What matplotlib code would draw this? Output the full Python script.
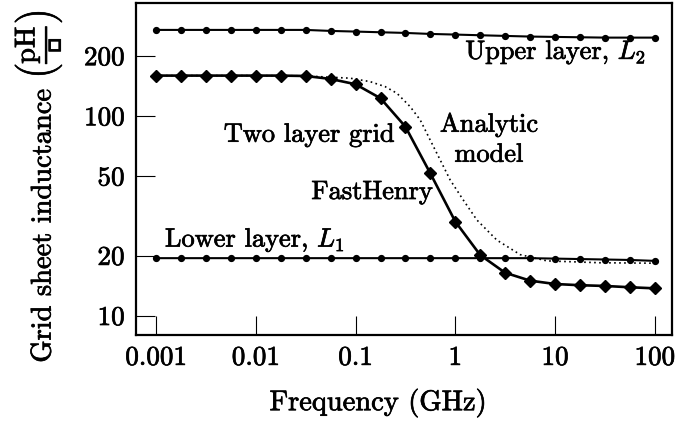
import matplotlib
matplotlib.use("Agg")
import matplotlib.pyplot as plt
import matplotlib.patheffects as pe
from matplotlib.ticker import NullLocator, FixedLocator, FixedFormatter

plt.rcParams['font.family'] = 'serif'
plt.rcParams['font.serif'] = ['cmr10']
plt.rcParams['mathtext.fontset'] = 'cm'
plt.rcParams['axes.formatter.use_mathtext'] = True

# Frequencies (GHz): 4 points per decade from 0.001 to 100
freq = [0.001, 0.00178, 0.00316, 0.00562, 0.01, 0.0178, 0.0316, 0.0562,
        0.1, 0.178, 0.316, 0.562, 1.0, 1.78, 3.16, 5.62, 10.0, 17.8, 31.6, 56.2, 100.0]

upper_L2 = [269.6, 269.6, 269.6, 269.6, 269.6, 269.6, 269.6, 266.5, 264.5, 262.4, 260.4,
            257.4, 255.5, 253.5, 251.6, 249.7, 248.7, 247.7, 246.7, 246.7, 246.7]

two_layer = [159.2, 159.2, 159.2, 159.2, 159.2, 159.2, 158.5, 153.2, 144.1, 122.6, 88.4,
             51.6, 29.6, 20.1, 16.4, 14.97, 14.4, 14.2, 14.08, 13.87, 13.7]

lower_L1 = [19.4, 19.4, 19.4, 19.4, 19.4, 19.4, 19.4, 19.4, 19.4, 19.4, 19.4,
            19.4, 19.4, 19.4, 19.4, 19.4, 19.3, 19.2, 19.1, 19.0, 18.8]

analytic_f = [0.001, 0.01, 0.03, 0.0883, 0.14, 0.198, 0.26, 0.353, 0.445, 0.56, 0.706,
              0.889, 1.2, 1.65, 2.61, 4.48, 8.3, 28.0, 100.0]
analytic_L = [159.2, 159.2, 158.8, 154.5, 148.5, 140.2, 129.9, 111.3, 95.5, 75.8, 60.2,
              47.8, 38.0, 30.1, 23.9, 20.2, 18.8, 18.4, 18.3]

xticks = [0.001, 0.01, 0.1, 1, 10, 100]
xticklabels = ['0.001', '0.01', '0.1', '1', '10', '100']
yticks = [10, 20, 50, 100, 200]
yticklabels = ['10', '20', '50', '100', '200']

W, H = 677, 421
fig = plt.figure(figsize=(W / 100, H / 100), dpi=100)
ax = fig.add_axes([135.7 / W, 1 - 335 / H, (671.7 - 135.7) / W, (335 - 2.7) / H])

ax.set_xscale('log')
ax.set_yscale('log')
ax.set_xlim(10 ** -3.204, 10 ** 2.17)
ax.set_ylim(10 ** 0.903, 10 ** 2.567)

ax.plot(analytic_f, analytic_L, color='black', lw=1.2, ls=(0, (1, 2)))
ax.plot(freq, upper_L2, color='black', lw=1.5, marker='o', ms=4.2)
ax.plot(freq, lower_L1, color='black', lw=1.5, marker='o', ms=4.2)
ax.plot(freq, two_layer, color='black', lw=1.9, marker='D', ms=6.5)

ax.xaxis.set_major_locator(FixedLocator(xticks))
ax.xaxis.set_major_formatter(FixedFormatter(xticklabels))
ax.yaxis.set_major_locator(FixedLocator(yticks))
ax.yaxis.set_major_formatter(FixedFormatter(yticklabels))
ax.xaxis.set_minor_locator(NullLocator())
ax.yaxis.set_minor_locator(NullLocator())
ax.tick_params(direction='in', length=14, width=0.8, labelsize=19.5, pad=8,
               top=False, right=False)
for s in ax.spines.values():
    s.set_linewidth(1.6)

stroke = [pe.withStroke(linewidth=0.5, foreground='black')]

ax.set_xlabel('Frequency (GHz)', fontsize=20.5)
ax.xaxis.set_label_coords(0.452, -0.16)
ax.xaxis.label.set_va('top')
ax.set_ylabel('Grid sheet inductance $\\left(\\dfrac{\\mathrm{pH}}{\u25ab}\\right)$', fontsize=20.5)
ax.yaxis.label.set_va('center')
ax.yaxis.set_label_coords(-0.183, 0.447)

def px(x, y):
    return ((x - 135.7) / (671.7 - 135.7), (335 - y) / (335 - 2.7))

fs = 19
texts = [
    ax.text(*px(646, 59), r'Upper layer, $L_2$', transform=ax.transAxes, ha='right', va='baseline', fontsize=fs),
    ax.text(*px(309, 141.7), 'Two layer grid', transform=ax.transAxes, ha='center', va='baseline', fontsize=fs),
    ax.text(*px(372, 199), 'FastHenry', transform=ax.transAxes, ha='center', va='baseline', fontsize=fs),
    ax.text(*px(489, 131.7), 'Analytic', transform=ax.transAxes, ha='center', va='baseline', fontsize=fs),
    ax.text(*px(489, 161.7), 'model', transform=ax.transAxes, ha='center', va='baseline', fontsize=fs),
    ax.text(*px(165, 246.7), r'Lower layer, $L_1$', transform=ax.transAxes, ha='left', va='baseline', fontsize=fs),
]
for t in texts + ax.get_xticklabels() + ax.get_yticklabels() + [ax.xaxis.label, ax.yaxis.label]:
    t.set_path_effects(stroke)

fig.savefig('out.png', dpi=100)
